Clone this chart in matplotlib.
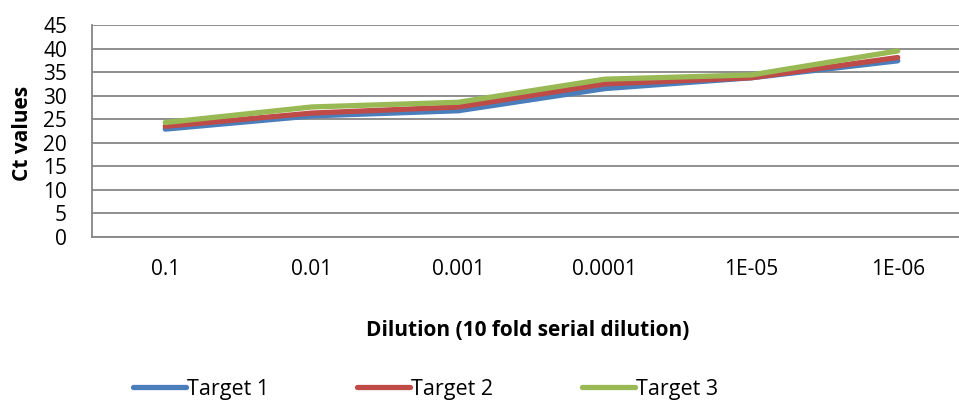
import matplotlib
matplotlib.use("Agg")
import matplotlib.pyplot as plt

categories = ["0.1", "0.01", "0.001", "0.0001", "1E-05", "1E-06"]
target1 = [22.9, 25.7, 26.8, 31.5, 33.8, 37.4]
target2 = [23.5, 26.3, 27.6, 32.5, 33.8, 38.1]
target3 = [24.3, 27.6, 28.6, 33.5, 34.4, 39.5]
series_names = ["Target 1", "Target 2", "Target 3"]
colors = ["#4A7EBB", "#BE4B48", "#98B954"]
yticks = [0, 5, 10, 15, 20, 25, 30, 35, 40, 45]

plt.rcParams['font.family'] = ['Open Sans', 'DejaVu Sans']
FS = 15
LFS = 15.5

fig = plt.figure(figsize=(9.59, 4.01), dpi=100)
ax = fig.add_axes([92/959, 1-237/401, (971-92)/959, 212/401])

x = list(range(len(categories)))
for vals, name, c in zip([target1, target2, target3], series_names, colors):
    ax.plot(x, vals, color=c, lw=3.8, label=name, solid_capstyle='round', solid_joinstyle='round')

ax.set_xlim(-0.5, len(categories) - 0.5)
ax.set_ylim(0, 45)
ax.set_yticks(yticks)
ax.set_xticks(x)
ax.set_xticklabels(categories)
ax.yaxis.grid(True, color='#868686', lw=1.3)
ax.set_axisbelow(True)
ax.tick_params(axis='both', length=0, labelsize=FS)
ax.tick_params(axis='y', pad=18)
ax.tick_params(axis='x', pad=16)
for s in ['top', 'right']:
    ax.spines[s].set_visible(False)
for s in ['left', 'bottom']:
    ax.spines[s].set_color('#868686')
    ax.spines[s].set_linewidth(1.3)

fig.text(528/959, 1-330/401, "Dilution (10 fold serial dilution)", ha='center', va='center',
         fontsize=FS, fontweight='bold')
fig.text(23/959, 1-133/401, "Ct values", ha='center', va='center', rotation=90,
         fontsize=FS, fontweight='bold')

fig.legend(loc='center left', bbox_to_anchor=(133/959, 1-389/401), ncol=3, frameon=False,
           fontsize=LFS, handlelength=2.46, handletextpad=0.05, columnspacing=4.1,
           borderaxespad=0, borderpad=0)

fig.savefig("out.png", dpi=100)
